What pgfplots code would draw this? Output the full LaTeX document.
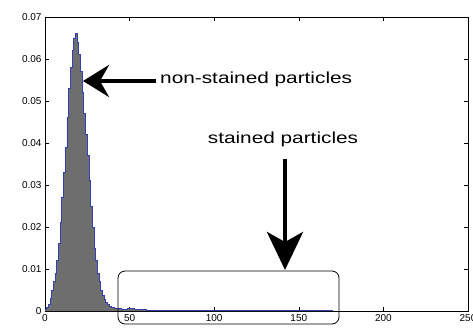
\documentclass[border=0pt]{standalone}
\usepackage{pgfplots}
\pgfplotsset{compat=1.18}
\usepackage{graphicx}
\usepackage{fontspec}
\setmainfont{Liberation Sans}
\usetikzlibrary{arrows.meta}
\definecolor{histgray}{RGB}{110,110,110}
\definecolor{histblue}{RGB}{50,64,176}
\begin{document}
\begin{tikzpicture}[x=1pt,y=1pt]
\path[use as bounding box] (0,0) rectangle (473,327);
\begin{axis}[
  at={(45pt,16pt)}, anchor=south west,
  scale only axis, width=423pt, height=294pt,
  xmin=0, xmax=250, ymin=0, ymax=0.07,
  xtick={0,50,...,250}, ytick={0,0.01,...,0.07},
  tick align=inside, major tick length=4pt,
  tick style={black, line width=0.6pt},
  axis line style={line width=0.7pt},
  /pgf/number format/assume math mode=true,
  yticklabel style={/pgf/number format/fixed, /pgf/number format/precision=2, font=\fontsize{10}{10}\selectfont},
  xticklabel style={font=\fontsize{10}{10}\selectfont},
  scaled y ticks=false,
]
\addplot[const plot, fill=histgray, draw=none] table {
x y
0 0.0003
1 0.0008
2 0.0015
3 0.003
4 0.005
5 0.007
6 0.009
7 0.012
8 0.016
9 0.021
10 0.027
11 0.033
12 0.039
13 0.046
14 0.053
15 0.058
16 0.062
17 0.065
18 0.066
19 0.064
20 0.061
21 0.057
22 0.052
23 0.047
24 0.042
25 0.037
26 0.031
27 0.025
28 0.020
29 0.015
30 0.012
31 0.009
32 0.007
33 0.005
34 0.0038
35 0.0028
36 0.002
37 0.0015
38 0.0011
39 0.0009
40 0.0008
41 0.0007
42 0.0006
43 0.0005
44 0.0005
45 0.0004
46 0.0004
47 0.0004
48 0.0004
49 0.0005
50 0.0006
51 0.0006
52 0.0005
53 0.0004
54 0.0003
55 0.0003
60 0.0002
170 0.0
} \closedcycle;
\addplot[const plot, draw=histblue, line width=0.9pt] table {
x y
0 0.0003
1 0.0008
2 0.0015
3 0.003
4 0.005
5 0.007
6 0.009
7 0.012
8 0.016
9 0.021
10 0.027
11 0.033
12 0.039
13 0.046
14 0.053
15 0.058
16 0.062
17 0.065
18 0.066
19 0.064
20 0.061
21 0.057
22 0.052
23 0.047
24 0.042
25 0.037
26 0.031
27 0.025
28 0.020
29 0.015
30 0.012
31 0.009
32 0.007
33 0.005
34 0.0038
35 0.0028
36 0.002
37 0.0015
38 0.0011
39 0.0009
40 0.0008
41 0.0007
42 0.0006
43 0.0005
44 0.0005
45 0.0004
46 0.0004
47 0.0004
48 0.0004
49 0.0005
50 0.0006
51 0.0006
52 0.0005
53 0.0004
54 0.0003
55 0.0003
60 0.0002
170 0.0
};
\end{axis}
% annotations
\draw[line width=4.5pt, -{Stealth[length=26pt,width=32pt,inset=9pt]}] (156,246) -- (83,246);
\node[anchor=west, inner sep=0pt] at (160,248) {\scalebox{1.3}[1]{\fontsize{16}{16}\selectfont non-stained particles}};
\node[inner sep=0pt] at (283,188) {\scalebox{1.3}[1]{\fontsize{16}{16}\selectfont stained particles}};
\draw[line width=4.5pt, -{Stealth[length=38pt,width=36pt,inset=10pt]}] (285,168) -- (285,57);
\draw[line width=0.8pt, rounded corners=7pt] (118,56) rectangle (339,3);
\end{tikzpicture}
\end{document}
